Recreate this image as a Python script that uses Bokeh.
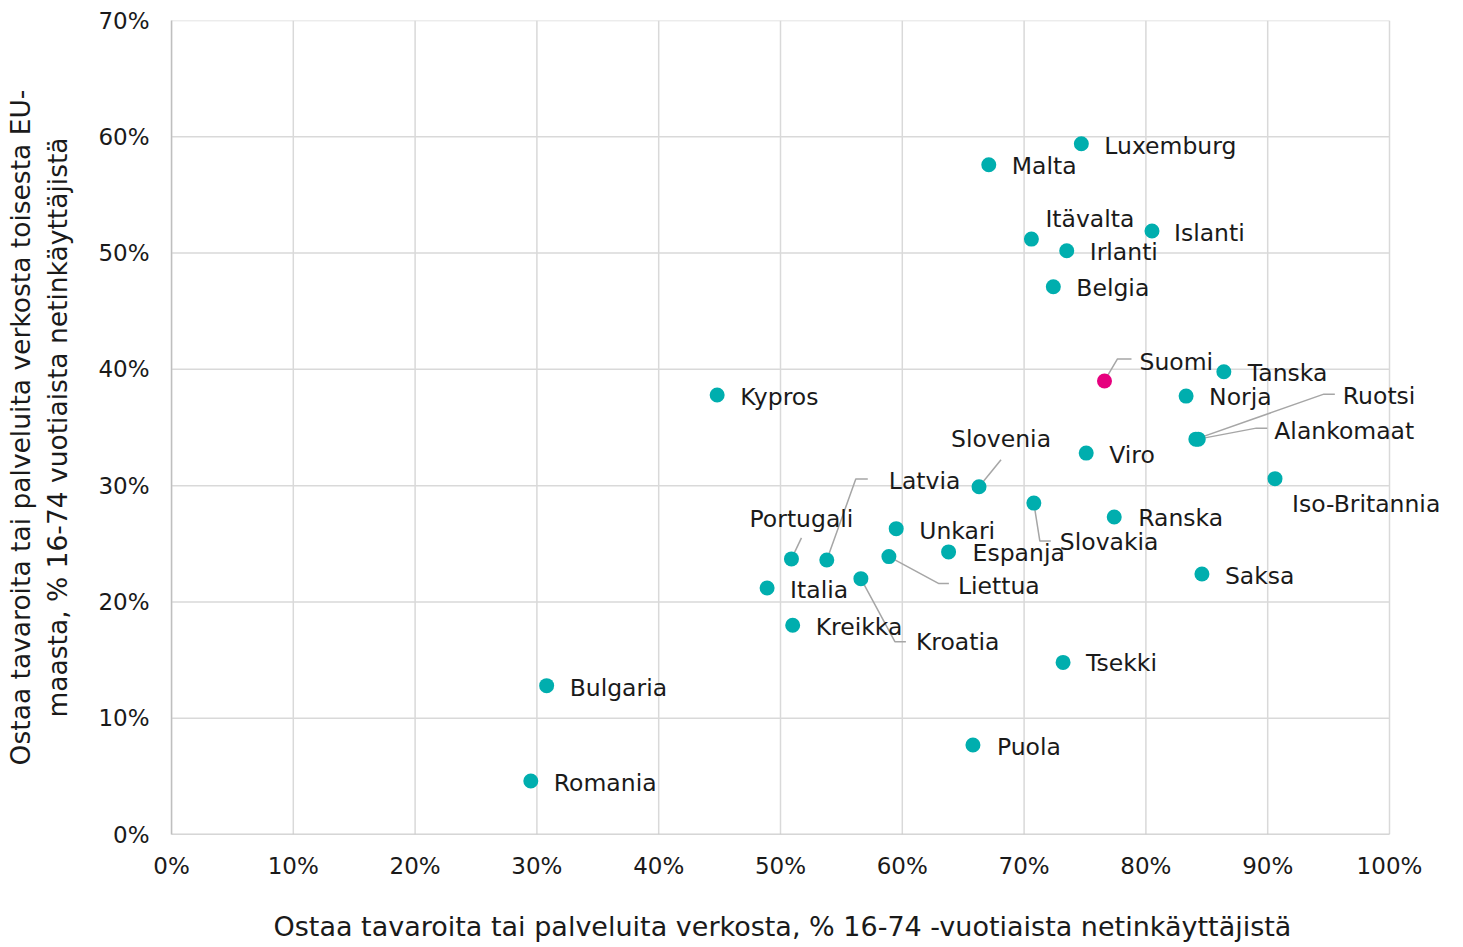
from bokeh.plotting import figure
from bokeh.models import ColumnDataSource, Range1d, FixedTicker, PrintfTickFormatter, Label, Title
from bokeh.embed import file_html
from bokeh.resources import INLINE

# ---- data ----
countries = ["Luxemburg", "Malta", "Itävalta", "Islanti", "Irlanti", "Belgia", "Suomi",
             "Tanska", "Norja", "Ruotsi", "Alankomaat", "Viro", "Iso-Britannia", "Kypros",
             "Slovenia", "Slovakia", "Ranska", "Unkari", "Espanja", "Liettua", "Portugali",
             "Latvia", "Saksa", "Kroatia", "Italia", "Kreikka", "Tsekki", "Bulgaria",
             "Puola", "Romania"]
buy_online = [74.7, 67.1, 70.6, 80.5, 73.5, 72.4, 76.6,
              86.4, 83.3, 84.1, 84.3, 75.1, 90.6, 44.8,
              66.3, 70.8, 77.4, 59.5, 63.8, 58.9, 50.9,
              53.8, 84.6, 56.6, 48.9, 51.0, 73.2, 30.8,
              65.8, 29.5]
buy_other_eu = [59.4, 57.6, 51.2, 51.9, 50.2, 47.1, 39.0,
                39.8, 37.7, 34.0, 34.0, 32.8, 30.6, 37.8,
                29.9, 28.5, 27.3, 26.3, 24.3, 23.9, 23.7,
                23.6, 22.4, 22.0, 21.2, 18.0, 14.8, 12.8,
                7.7, 4.6]
x_ticks = [0, 10, 20, 30, 40, 50, 60, 70, 80, 90, 100]
y_ticks = [0, 10, 20, 30, 40, 50, 60, 70]
highlight = "Suomi"

# ---- label layout (screen pixel offsets, y down) ----
label_layout = {
    "Luxemburg": (23, 2, "left"), "Malta": (23, 1, "left"), "Itävalta": (14, -20, "left"),
    "Islanti": (22, 2, "left"), "Irlanti": (23, 1, "left"), "Belgia": (23, 1, "left"),
    "Suomi": (35, -19, "left"), "Tanska": (24, 1, "left"), "Norja": (23, 1, "left"),
    "Ruotsi": (147, -43, "left"), "Alankomaat": (76, -8, "left"), "Viro": (23, 2, "left"),
    "Iso-Britannia": (17, 25, "left"), "Kypros": (23, 2, "left"), "Slovenia": (22, -48, "center"),
    "Slovakia": (26, 39, "left"), "Ranska": (24, 1, "left"), "Unkari": (23, 2, "left"),
    "Espanja": (24, 1, "left"), "Liettua": (69, 29, "left"), "Portugali": (10, -40, "center"),
    "Latvia": (62, -79, "left"), "Saksa": (23, 2, "left"), "Kroatia": (55, 63, "left"),
    "Italia": (23, 2, "left"), "Kreikka": (23, 2, "left"), "Tsekki": (23, 1, "left"),
    "Bulgaria": (23, 2, "left"), "Puola": (24, 2, "left"), "Romania": (23, 2, "left"),
}
leaders = {
    "Suomi": [(0, 0), (13, -22), (27, -22)],
    "Ruotsi": [(0, 0), (128, -45), (139, -45)],
    "Alankomaat": [(0, 0), (58, -11), (69, -11)],
    "Slovenia": [(0, 0), (22, -27)],
    "Slovakia": [(0, 0), (6, 38), (17, 38)],
    "Liettua": [(0, 0), (50, 27), (60, 27)],
    "Portugali": [(0, 0), (10, -21)],
    "Latvia": [(0, 0), (29, -81), (41, -81)],
    "Kroatia": [(0, 0), (34, 63), (45, 63)],
}

XMAX, YMAX = 100, 70
PLOT_W, FH = 1218, 814          # pixel size of the 0..100 x 0..70 plotting area
EXTRA_R = 66                    # white space right of 100% kept inside the frame for labels
px_x = PLOT_W / XMAX
px_y = FH / YMAX
FW = PLOT_W + EXTRA_R

FONT = "DejaVu Sans"
TICK_FS = "23px"
LABEL_FS = "23.5px"
TITLE_FS = "27px"
YTITLE_FS = "26.5px"
TEXT_COLOR = "#1a1a1a"
TEAL = "#00AEAE"
PINK = "#E6007E"
GRID = "#D9D9D9"
AXIS = "#BFBFBF"

p = figure(frame_width=FW, frame_height=FH,
           x_range=Range1d(0, XMAX + EXTRA_R / px_x), y_range=Range1d(0, YMAX),
           output_backend="svg", toolbar_location=None,
           min_border_left=171, min_border_right=0, min_border_top=20, min_border_bottom=3)
p.outline_line_color = None
p.background_fill_color = "white"
p.border_fill_color = "white"
p.xgrid.visible = False
p.ygrid.visible = False

for ax in (p.xaxis[0], p.yaxis[0]):
    ax.major_tick_in = 0
    ax.major_tick_out = 0
    ax.minor_tick_in = 0
    ax.minor_tick_out = 0
    ax.axis_line_color = AXIS
    ax.axis_line_width = 1.5
    ax.major_label_text_font = FONT
    ax.major_label_text_font_size = TICK_FS
    ax.major_label_text_color = TEXT_COLOR
    ax.axis_label_text_font = FONT
    ax.axis_label_text_font_style = "normal"
    ax.axis_label_text_color = TEXT_COLOR
    ax.formatter = PrintfTickFormatter(format="%d%%")

p.xaxis.axis_line_color = None
p.xaxis.ticker = FixedTicker(ticks=x_ticks)
p.yaxis.ticker = FixedTicker(ticks=y_ticks)
p.xaxis.major_label_standoff = 18
p.yaxis.major_label_standoff = 22
p.yaxis.axis_label = "Ostaa tavaroita tai palveluita verkosta toisesta EU-\nmaasta, % 16-74 vuotiaista netinkäyttäjistä"
p.yaxis.axis_label_text_font_size = YTITLE_FS
p.yaxis.axis_label_standoff = 22

# x-axis title under the 0..100 area
p.add_layout(Title(text="Ostaa tavaroita tai palveluita verkosta, % 16-74 -vuotiaista netinkäyttäjistä",
                   align="left", offset=102, standoff=55,
                   text_font=FONT, text_font_size=TITLE_FS, text_font_style="normal",
                   text_color=TEXT_COLOR), "below")

# grid lines limited to the 0..100 x 0..70 area
p.segment(x0=x_ticks, y0=[0] * len(x_ticks), x1=x_ticks, y1=[YMAX] * len(x_ticks),
          line_color=GRID, line_width=1.5)
p.segment(x0=[0] * len(y_ticks), y0=y_ticks, x1=[XMAX] * len(y_ticks), y1=y_ticks,
          line_color=GRID, line_width=1.5)
# x axis line
p.segment(x0=[0], y0=[0], x1=[XMAX], y1=[0], line_color=AXIS, line_width=1.5)

# leader lines
xs, ys = [], []
for name, pts in leaders.items():
    i = countries.index(name)
    xs.append([buy_online[i] + dx / px_x for dx, dy in pts])
    ys.append([buy_other_eu[i] - dy / px_y for dx, dy in pts])
p.multi_line(xs=xs, ys=ys, line_color="#A6A6A6", line_width=1.5)

# points
colors = [PINK if c == highlight else TEAL for c in countries]
src = ColumnDataSource(dict(x=buy_online, y=buy_other_eu, name=countries, color=colors))
p.scatter("x", "y", source=src, size=15, fill_color="color", line_color=None)

# labels
for name, xv, yv in zip(countries, buy_online, buy_other_eu):
    dx, dy, align = label_layout[name]
    p.add_layout(Label(x=xv, y=yv, text=name, x_offset=dx, y_offset=-dy,
                       text_align=align, text_baseline="middle",
                       text_font=FONT, text_font_size=LABEL_FS, text_color=TEXT_COLOR))

open("out.html", "w").write(file_html(p, INLINE))
